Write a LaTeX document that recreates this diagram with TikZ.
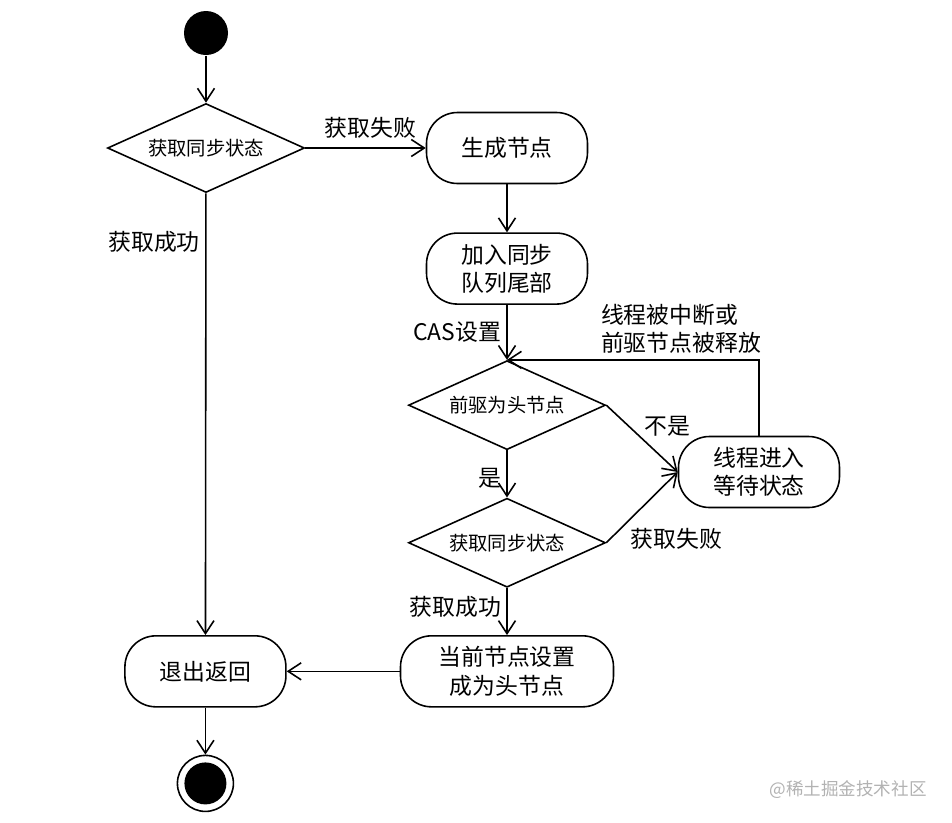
\documentclass[tikz,border=0pt]{standalone}
\usepackage{fontspec}
\setmainfont{Noto Sans CJK SC}
\usetikzlibrary{arrows.meta,positioning,shapes.geometric}

\begin{document}
\begin{tikzpicture}[
  line width=0.9pt,
  act/.style={draw,rounded corners=0.62cm,align=center,minimum width=3.22cm,
              minimum height=1.42cm,font=\fontsize{13}{16}\selectfont},
  choice/.style={draw,diamond,aspect=2.2,minimum width=3.94cm,minimum height=1.78cm,
                 inner sep=0pt,font=\fontsize{11}{13}\selectfont},
  lbl/.style={font=\fontsize{13}{16}\selectfont,inner sep=3pt},
  arr/.style={-{Straight Barb[length=2.6mm,width=3.4mm]}},
  startdot/.style={circle,fill=black,minimum size=0.88cm,inner sep=0pt},
  enddot/.style={circle,draw,minimum size=1.12cm,inner sep=0pt}
]
\useasboundingbox (0,0) rectangle (19.04,-16.44);
\node[startdot] (start) at (4.12,-0.66) {};
\node[choice] (sync) at (4.12,-2.96) {获取同步状态};
\node[act] (make) at (10.14,-2.96) {生成节点};
\node[act,below=0.96cm of make] (enq) {加入同步\\队列尾部};
\node[choice,below=1.1cm of enq] (ishead) {前驱为头节点};
\node[choice,below=0.94cm of ishead] (retry) {获取同步状态};
\node[act] (wait) at (15.18,-9.44) {线程进入\\等待状态};
\node[act,minimum width=4.26cm,below=0.94cm of retry] (sethead) {当前节点设置\\成为头节点};
\node[act,left=2.26cm of sethead] (leave) {退出返回};
\node[enddot,below=0.94cm of leave] (stop) {};
\fill (stop) circle (0.42);
\node[text=gray!60,font=\fontsize{10}{12}\selectfont] (mark) at (16.96,-15.8) {@稀土掘金技术社区};
\draw[arr] (start) -- (sync);
\draw[arr] (sync) -- node[lbl,above,xshift=0.1cm,yshift=0.08cm]{获取失败} (make);
\draw[arr] (sync) -- node[lbl,left,pos=0.11]{获取成功} (leave);
\draw[arr] (make) -- (enq);
\draw[arr] (enq) -- node[lbl,left]{CAS设置} (ishead);
\draw[arr] (ishead) -- node[lbl,left,pos=0.6]{是} (retry);
\draw[arr] (ishead.east) -- node[lbl,above right,inner sep=1pt]{不是} (wait.west);
\draw[arr] (retry.east) -- node[lbl,right,pos=0.05,xshift=0.3cm]{获取失败} (wait.west);
\draw[arr] (wait.north) |- node[lbl,above left,align=left,xshift=0.16cm]{线程被中断或\\前驱节点被释放} (ishead.north);
\draw[arr] (retry) -- node[lbl,left,pos=0.4]{获取成功} (sethead);
\draw[arr] (sethead) -- (leave);
\draw[arr] (leave) -- (stop);
\end{tikzpicture}
\end{document}
